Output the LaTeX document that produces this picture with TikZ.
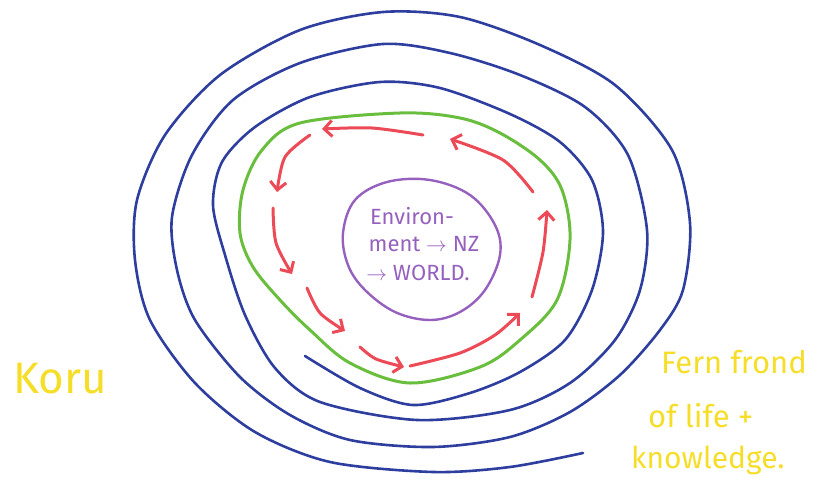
\documentclass[tikz,border=0pt]{standalone}
\usepackage{fontspec}
\setmainfont{Fira Sans}
\usetikzlibrary{arrows.meta}
\definecolor{korublue}{RGB}{46,62,158}
\definecolor{frondgreen}{RGB}{106,190,62}
\definecolor{flowred}{RGB}{236,74,86}
\definecolor{envpurple}{RGB}{150,96,190}
\definecolor{labelyellow}{RGB}{246,222,40}

\begin{document}
\begin{tikzpicture}[x=1pt,y=-1pt,
  koru/.style={draw=korublue,line width=2.6pt,line cap=round,line join=round},
  frond/.style={draw=frondgreen,line width=3pt},
  flow/.style={draw=flowred,line width=3pt,line cap=round,
    -{Straight Barb[length=8pt,width=16pt,line width=3pt]}},
  env/.style={draw=envpurple,line width=2.4pt},
  yellowtext/.style={text=labelyellow,inner sep=0pt},
  envtext/.style={text=envpurple,inner sep=0pt,font=\fontsize{22}{24}\selectfont}]
\useasboundingbox (0,0) rectangle (817,500);
% koru spiral, from the inner end out to the tail
\draw[koru] plot[smooth,tension=0.5] coordinates {
  (305,356) (360,388) (413,405) (470,393) (520,372) (565,340) (592,290)
  (603,232) (592,180) (560,142) (510,114) (440,88) (380,82) (310,97)
  (255,127) (222,162) (213,205) (225,255) (245,315) (275,368) (320,402)
  (417,420) (510,410) (570,383) (615,340) (640,290) (647,230) (628,155)
  (585,107) (520,75) (450,53) (383,44) (300,63) (233,100) (192,155)
  (172,217) (177,270) (195,320) (240,377) (290,415) (350,440) (433,447)
  (510,437) (570,412) (620,375) (660,330) (683,290) (690,223) (672,150)
  (615,85) (540,45) (460,17) (383,12) (300,30) (220,75) (165,135)
  (137,200) (135,260) (150,320) (195,383) (255,432) (330,462) (433,472)
  (510,467) (583,453)};
% green loop
\draw[frond] plot[smooth cycle,tension=0.55] coordinates {
  (310,330) (350,363) (410,383) (480,367) (520,340) (557,300) (570,240)
  (562,190) (540,160) (500,133) (460,118) (400,113) (300,123) (262,150)
  (243,190) (240,233) (253,267) (280,300)};
% purple centre
\draw[env] plot[smooth cycle,tension=0.6] coordinates {
  (343,233) (355,200) (387,182) (430,180) (470,195) (495,225) (500,255)
  (485,290) (460,312) (430,320) (395,312) (365,290) (348,265)};
\node[envtext] (env1) at (412,216) {Environ-};
\node[envtext] (env2) at (424,244) {ment $\rightarrow$ NZ};
\node[envtext] (env3) at (418,273) {$\rightarrow$ WORLD.};
% red arrows round the loop
\draw[flow] plot[smooth] coordinates {(410,366) (460,353) (495,335) (520,313)};
\draw[flow] plot[smooth] coordinates {(532,297) (543,252) (547,210)};
\draw[flow] plot[smooth] coordinates {(533,192) (503,160) (450,139)};
\draw[flow] plot[smooth] coordinates {(423,135) (372,128) (322,129)};
\draw[flow] plot[smooth] coordinates {(310,135) (285,157) (277,192)};
\draw[flow] plot[smooth] coordinates {(273,208) (276,243) (292,274)};
\draw[flow] plot[smooth] coordinates {(307,288) (320,313) (345,331)};
\draw[flow] plot[smooth] coordinates {(360,347) (376,359) (404,367)};
% labels
\node[yellowtext,font=\fontsize{44}{46}\selectfont] (koru) at (60,379) {Koru};
\node[yellowtext,anchor=west,font=\fontsize{31}{34}\selectfont] (fern) at (661,362) {Fern frond};
\node[yellowtext,anchor=west,font=\fontsize{31}{34}\selectfont] (life) at (648,416) {of life +};
\node[yellowtext,anchor=west,font=\fontsize{30}{34}\selectfont] (knowledge) at (631,460) {knowledge.};
\end{tikzpicture}
\end{document}
